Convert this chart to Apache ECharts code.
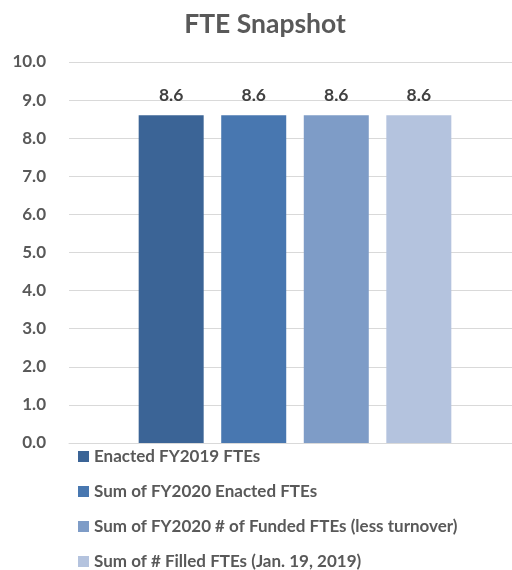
<!DOCTYPE html>
<html>
<head>
<meta charset="utf-8">
<script src="https://cdn.jsdelivr.net/npm/echarts@6/dist/echarts.min.js"></script>
<style>
  html, body { margin: 0; padding: 0; background: #fff; }
  #chart { width: 512px; height: 570px; }
</style>
</head>
<body>
<div id="chart"></div>
<script>
// FTE counts, one bar per measure
const seriesNames = [
  'Enacted FY2019 FTEs',
  'Sum of FY2020 Enacted FTEs',
  'Sum of FY2020 # of Funded FTEs (less turnover)',
  'Sum of # Filled FTEs (Jan. 19, 2019)'
];
const seriesValues = [8.6, 8.6, 8.6, 8.6];
const seriesColors = ['#3B6496', '#4877B0', '#7E9CC7', '#B4C3DE'];
const categories = [''];
const yTicks = { min: 0, max: 10, step: 1 };

const FONT = 'Lato, "Open Sans", sans-serif';
const chart = echarts.init(document.getElementById('chart'), null, { renderer: 'canvas' });

// one legend row per series, stacked below the plot
const legendRowTop = 448;
const legendRowStep = 35;
const legends = seriesNames.map((name, i) => ({
  orient: 'vertical',
  left: 78,
  top: legendRowTop + i * legendRowStep,
  padding: 0,
  itemWidth: 11,
  itemHeight: 11,
  itemGap: 4,
  icon: 'rect',
  data: [name],
  textStyle: { fontFamily: FONT, fontSize: 17, fontWeight: 'bold', color: '#595959', lineHeight: 17 }
}));

chart.setOption({
  animation: false,
  textStyle: { fontFamily: FONT },
  title: {
    text: 'FTE Snapshot',
    left: 265,
    textAlign: 'center',
    top: 11,
    padding: 0,
    textStyle: { fontFamily: FONT, fontSize: 26.5, fontWeight: 'bold', color: '#595959' }
  },
  grid: { left: 69, top: 62, width: 452, height: 381, containLabel: false, outerBoundsMode: 'none' },
  legend: legends,
  xAxis: {
    type: 'category',
    data: categories,
    axisLine: { show: true, lineStyle: { color: '#D9D9D9' } },
    axisTick: { show: false },
    axisLabel: { show: false }
  },
  yAxis: {
    type: 'value',
    min: yTicks.min,
    max: yTicks.max,
    interval: yTicks.step,
    axisLine: { show: false },
    axisTick: { show: false },
    splitLine: { lineStyle: { color: '#D9D9D9', width: 1 } },
    axisLabel: {
      margin: 23,
      fontFamily: FONT,
      fontSize: 17,
      fontWeight: 'bold',
      color: '#595959',
      formatter: v => v.toFixed(1)
    }
  },
  series: seriesNames.map((name, i) => ({
    name,
    type: 'bar',
    data: [seriesValues[i]],
    barWidth: 65,
    barGap: '27%',
    barCategoryGap: '31%',
    itemStyle: { color: seriesColors[i] },
    label: {
      show: true,
      position: 'top',
      distance: 11,
      fontFamily: FONT,
      fontSize: 17.5,
      fontWeight: 'bold',
      color: '#404040',
      formatter: p => p.value.toFixed(1)
    }
  }))
});
</script>
</body>
</html>
